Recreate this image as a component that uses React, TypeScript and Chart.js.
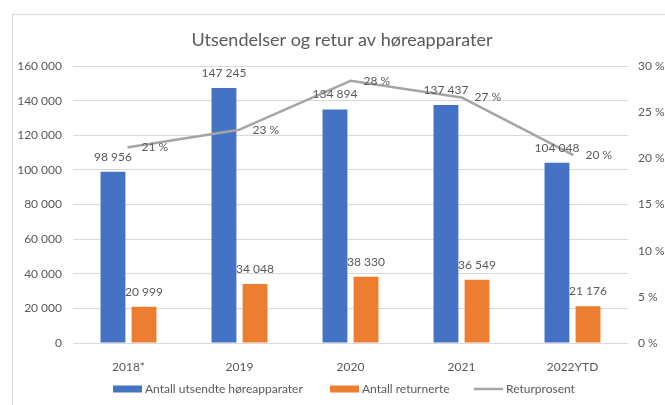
import React, { useEffect, useRef } from "react";
import { Chart, registerables } from "chart.js";

Chart.register(...registerables);

const titleText = "Utsendelser og retur av høreapparater";
const categories = ["2018*", "2019", "2020", "2021", "2022YTD"];
const sentCounts = [98956, 147245, 134894, 137437, 104048];
const returnedCounts = [20999, 34048, 38330, 36549, 21176];
const returnPercent = [21.2, 23.1, 28.4, 26.6, 20.4];
const returnPercentLabels = ["21 %", "23 %", "28 %", "27 %", "20 %"];
const seriesNames = ["Antall utsendte høreapparater", "Antall returnerte", "Returprosent"];
const seriesColors = ["#4472C4", "#ED7D31", "#A5A5A5"];
const leftAxisMax = 160000;
const leftAxisStep = 20000;
const rightAxisMax = 30;
const rightAxisStep = 5;

const FONT = "Lato, 'Open Sans', sans-serif";
const TEXT = "#595959";

const fmt = (n: number) => String(Math.round(n)).replace(/\B(?=(\d{3})+(?!\d))/g, " ");

const labelsPlugin = {
  id: "customLabels",
  afterDatasetsDraw(chart: any) {
    const ctx = chart.ctx;
    ctx.save();
    ctx.font = `12px ${FONT}`;
    ctx.fillStyle = TEXT;
    ctx.textBaseline = "middle";
    [0, 1].forEach((di) => {
      const meta = chart.getDatasetMeta(di);
      const vals = di === 0 ? sentCounts : returnedCounts;
      ctx.textAlign = "center";
      meta.data.forEach((el: any, i: number) => {
        ctx.fillText(fmt(vals[i]), el.x, el.y - 15);
      });
    });
    const lm = chart.getDatasetMeta(2);
    ctx.textAlign = "left";
    lm.data.forEach((el: any, i: number) => {
      ctx.fillText(returnPercentLabels[i], el.x + 13, el.y);
    });
    ctx.restore();
  },
  afterDraw(chart: any) {
    const ctx = chart.ctx;
    ctx.save();
    // title
    ctx.font = `18px ${FONT}`;
    ctx.fillStyle = TEXT;
    ctx.textAlign = "center";
    ctx.textBaseline = "middle";
    ctx.fillText(titleText, 342, 40);
    // legend
    ctx.font = `12px ${FONT}`;
    ctx.textAlign = "left";
    const ly = 389;
    const starts = [113, 330, 474];
    starts.forEach((sx, i) => {
      if (i < 2) {
        ctx.fillStyle = seriesColors[i];
        ctx.fillRect(sx, ly - 3.5, 29, 7);
      } else {
        ctx.strokeStyle = seriesColors[i];
        ctx.lineWidth = 2.5;
        ctx.beginPath();
        ctx.moveTo(sx, ly);
        ctx.lineTo(sx + 29, ly);
        ctx.stroke();
      }
      ctx.fillStyle = TEXT;
      ctx.fillText(seriesNames[i], sx + 32, ly);
    });
    ctx.restore();
  },
};

export default function App() {
  const ref = useRef<HTMLCanvasElement>(null);
  useEffect(() => {
    const chart = new Chart(ref.current as HTMLCanvasElement, {
      type: "bar",
      data: {
        labels: categories,
        datasets: [
          {
            type: "bar",
            label: seriesNames[0],
            data: sentCounts,
            backgroundColor: seriesColors[0],
            yAxisID: "y",
            order: 1,
            categoryPercentage: 0.56,
            barPercentage: 0.8,
          },
          {
            type: "bar",
            label: seriesNames[1],
            data: returnedCounts,
            backgroundColor: seriesColors[1],
            yAxisID: "y",
            order: 1,
            categoryPercentage: 0.56,
            barPercentage: 0.8,
          },
          {
            type: "line",
            label: seriesNames[2],
            data: returnPercent,
            borderColor: seriesColors[2],
            backgroundColor: seriesColors[2],
            borderWidth: 2.5,
            pointRadius: 0,
            tension: 0,
            borderJoinStyle: "round",
            borderCapStyle: "round",
            yAxisID: "y1",
            order: 0,
          },
        ] as any,
      },
      options: {
        responsive: false,
        animation: false,
        devicePixelRatio: 1,
        layout: { padding: { top: 66, left: 0, right: 0, bottom: 0 } },
        plugins: {
          legend: { display: false },
          title: { display: false },
          tooltip: { enabled: false },
        },
        scales: {
          x: {
            grid: { display: false },
            border: { display: false },
            ticks: { color: TEXT, font: { family: FONT, size: 12 }, padding: 9 },
            afterFit: (s: any) => {
              s.height = 62;
            },
          },
          y: {
            position: "left",
            min: 0,
            max: leftAxisMax,
            border: { display: false },
            grid: { color: "#D9D9D9", drawTicks: false },
            ticks: {
              stepSize: leftAxisStep,
              color: TEXT,
              font: { family: FONT, size: 12 },
              padding: 11,
              callback: (v: any) => fmt(Number(v)),
            },
            afterFit: (s: any) => {
              s.width = 73;
            },
          },
          y1: {
            position: "right",
            min: 0,
            max: rightAxisMax,
            border: { display: false },
            grid: { display: false, drawTicks: false },
            ticks: {
              stepSize: rightAxisStep,
              color: TEXT,
              font: { family: FONT, size: 12 },
              padding: 10,
              callback: (v: any) => `${v} %`,
            },
            afterFit: (s: any) => {
              s.width = 37;
            },
          },
        } as any,
      },
      plugins: [labelsPlugin],
    });
    return () => chart.destroy();
  }, []);

  return (
    <div
      style={{
        position: "fixed",
        left: 0,
        top: 0,
        width: 665,
        height: 405,
        background: "#fff",
        overflow: "hidden",
      }}
    >
      <div
        style={{
          position: "absolute",
          left: 12,
          top: 14,
          width: 700,
          height: 450,
          border: "1px solid #D9D9D9",
          boxSizing: "border-box",
        }}
      />
      <canvas
        ref={ref}
        width={665}
        height={405}
        style={{ position: "absolute", left: 0, top: 0, width: 665, height: 405 }}
      />
    </div>
  );
}
